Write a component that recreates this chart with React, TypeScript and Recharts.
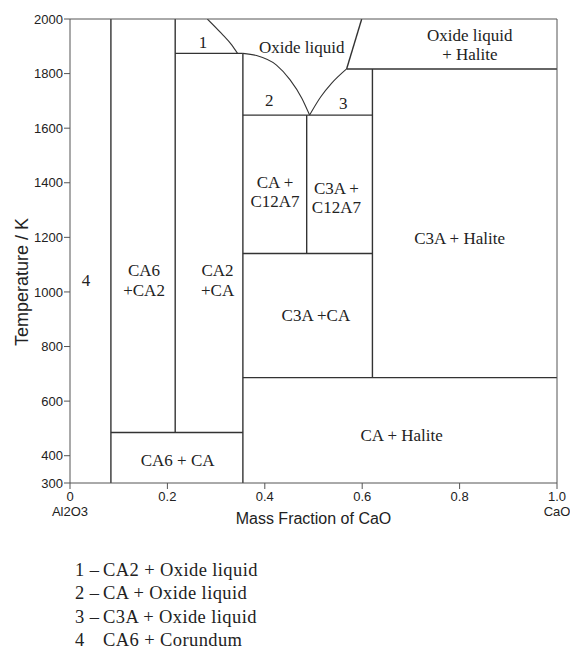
import React from "react";
import { LineChart, Line, XAxis, YAxis, ReferenceDot } from "recharts";

const X_TICKS = [0, 0.2, 0.4, 0.6, 0.8, 1];
const Y_TICKS = [300, 400, 600, 800, 1000, 1200, 1400, 1600, 1800, 2000];
const X_END_NAMES: Record<number, string> = { 0: "Al2O3", 1: "CaO" };

// phase boundaries, x = mass fraction CaO, t = temperature (K)
const CA6_LINE = [{ x: 0.084, t: 300 }, { x: 0.084, t: 2000 }];
const CA2_LINE = [{ x: 0.216, t: 485 }, { x: 0.216, t: 2000 }];
const CA_LINE = [{ x: 0.355, t: 300 }, { x: 0.355, t: 1874 }];
const C12A7_LINE = [{ x: 0.486, t: 1141 }, { x: 0.486, t: 1648 }];
const C3A_LINE = [{ x: 0.621, t: 686 }, { x: 0.621, t: 1817 }];

const CA6_CA_TIE = [{ x: 0.084, t: 485 }, { x: 0.355, t: 485 }];
const CA2_TIE = [{ x: 0.216, t: 1874 }, { x: 0.355, t: 1874 }];
const EUTECTIC_TIE = [{ x: 0.355, t: 1648 }, { x: 0.621, t: 1648 }];
const C3A_CA_TIE = [{ x: 0.355, t: 1141 }, { x: 0.621, t: 1141 }];
const HALITE_LOW = [{ x: 0.355, t: 686 }, { x: 1, t: 686 }];
const HALITE_HIGH = [{ x: 0.568, t: 1817 }, { x: 1, t: 1817 }];

const LIQUIDUS_1 = [
  { x: 0.282, t: 2000 },
  { x: 0.311, t: 1947 },
  { x: 0.332, t: 1905 },
  { x: 0.344, t: 1874 },
];
const LIQUIDUS_2 = [
  { x: 0.355, t: 1874 },
  { x: 0.383, t: 1866 },
  { x: 0.424, t: 1831 },
  { x: 0.452, t: 1777 },
  { x: 0.476, t: 1710 },
  { x: 0.492, t: 1648 },
];
const LIQUIDUS_3 = [
  { x: 0.492, t: 1648 },
  { x: 0.515, t: 1715 },
  { x: 0.537, t: 1764 },
  { x: 0.568, t: 1817 },
];
const HALITE_LIQUIDUS = [{ x: 0.568, t: 1817 }, { x: 0.599, t: 2000 }];

const STRAIGHT = [
  CA6_LINE, CA2_LINE, CA_LINE, C12A7_LINE, C3A_LINE,
  CA6_CA_TIE, CA2_TIE, EUTECTIC_TIE, C3A_CA_TIE, HALITE_LOW, HALITE_HIGH, HALITE_LIQUIDUS,
];
const CURVED = [LIQUIDUS_1, LIQUIDUS_2, LIQUIDUS_3];

const REGION_TEXT = [
  "1", "Oxide liquid", "Oxide liquid", "+ Halite", "2", "3",
  "CA +", "C12A7", "C3A +", "C12A7", "C3A + Halite", "4",
  "CA6", "+CA2", "CA2", "+CA", "C3A +CA", "CA6 + CA", "CA + Halite",
];
const REGION_X = [
  0.273, 0.476, 0.821, 0.821, 0.409, 0.561,
  0.421, 0.421, 0.547, 0.547, 0.8, 0.033,
  0.152, 0.152, 0.303, 0.303, 0.505, 0.221, 0.681,
];
const REGION_T = [
  1917, 1898, 1941, 1872, 1703, 1693,
  1404, 1333, 1380, 1310, 1196, 1044,
  1080, 1007, 1080, 1007, 915, 384, 476,
];

const NOTE_KEYS = ["1 –", "2 –", "3 –", "4"];
const NOTE_TEXTS = ["CA2 + Oxide liquid", "CA + Oxide liquid", "C3A + Oxide liquid", "CA6 + Corundum"];

const SANS = "Liberation Sans, Arial, sans-serif";
const SERIF = "Liberation Serif, Times New Roman, serif";
const INK = "#222";
const LINE = "#333";
const FRAME = "#555";

function BottomTick(props: any) {
  const { x, y, payload } = props;
  const v = payload.value;
  const txt = v === 0 ? "0" : v.toFixed(1);
  const name = X_END_NAMES[v];
  return (
    <g>
      <text x={x} y={y + 9} textAnchor="middle" fontSize={13} fontFamily={SANS} fill={INK}>
        {txt}
      </text>
      {name && (
        <text x={x} y={y + 23.5} textAnchor="middle" fontSize={13} fontFamily={SANS} fill={INK}>
          {name}
        </text>
      )}
    </g>
  );
}

export default function App() {
  return (
    <div style={{ position: "relative", width: 571, height: 651, boxSizing: "border-box", padding: "8px 0 0 8px" }}>
      <style>{"html,body{margin:0;overflow:hidden}"}</style>
      <LineChart width={562} height={530} margin={{ top: 5, right: 7, bottom: 5, left: 10 }}>
        <XAxis
          dataKey="x"
          type="number"
          domain={[0, 1]}
          ticks={X_TICKS}
          height={50}
          tickSize={6}
          tickMargin={3}
          stroke={FRAME}
          tick={<BottomTick />}
          allowDataOverflow
          label={{
            content: (p: any) => {
              const vb = p.viewBox || { x: 62, y: 475, width: 487 };
              return (
                <text x={vb.x + vb.width / 2} y={vb.y + 41} textAnchor="middle" fontSize={16} fontFamily={SANS} fill={INK}>
                  Mass Fraction of CaO
                </text>
              );
            },
          }}
        />
        <XAxis
          xAxisId="top"
          orientation="top"
          dataKey="x"
          type="number"
          domain={[0, 1]}
          ticks={X_TICKS}
          height={6}
          tickSize={6}
          tick={false}
          stroke={FRAME}
        />
        <YAxis
          type="number"
          domain={[300, 2000]}
          ticks={Y_TICKS}
          width={52}
          tickSize={6}
          tickMargin={1}
          stroke={FRAME}
          allowDataOverflow
          tick={{ fontSize: 13, fontFamily: SANS, fill: INK }}
          label={{
            content: (p: any) => {
              const vb = p.viewBox || { x: 10, y: 11, height: 464 };
              const cx = vb.x + 3.7;
              const cy = vb.y + 263;
              return (
                <text
                  x={cx}
                  y={cy}
                  transform={`rotate(-90, ${cx}, ${cy})`}
                  textAnchor="middle"
                  dominantBaseline="central"
                  fontSize={18}
                  fontFamily={SANS}
                  fill={INK}
                >
                  Temperature / K
                </text>
              );
            },
          }}
        />
        <YAxis
          yAxisId="right"
          orientation="right"
          type="number"
          domain={[300, 2000]}
          ticks={Y_TICKS}
          width={6}
          tickSize={6}
          tick={false}
          stroke={FRAME}
        />
        {STRAIGHT.map((seg, i) => (
          <Line
            key={"s" + i}
            data={seg}
            dataKey="t"
            type="linear"
            stroke={LINE}
            strokeWidth={1.4}
            dot={false}
            activeDot={false}
            isAnimationActive={false}
          />
        ))}
        {CURVED.map((seg, i) => (
          <Line
            key={"c" + i}
            data={seg}
            dataKey="t"
            type="monotone"
            stroke={LINE}
            strokeWidth={1.1}
            dot={false}
            activeDot={false}
            isAnimationActive={false}
          />
        ))}
        {REGION_TEXT.map((txt, i) => (
          <ReferenceDot
            key={"r" + i}
            x={REGION_X[i]}
            y={REGION_T[i]}
            r={0}
            fill="none"
            stroke="none"
            label={{ value: txt, position: "center", fontSize: 17, fontFamily: SERIF, fill: INK }}
          />
        ))}
      </LineChart>
      <div
        style={{
          position: "absolute",
          left: 0,
          top: 558.5,
          fontFamily: SERIF,
          fontSize: 18.5,
          letterSpacing: 0.4,
          lineHeight: "23.5px",
          color: INK,
        }}
      >
        {NOTE_TEXTS.map((txt, i) => (
          <div key={i} style={{ position: "relative", height: 23.5, whiteSpace: "nowrap" }}>
            <span style={{ position: "absolute", left: 75 }}>{NOTE_KEYS[i]}</span>
            <span style={{ position: "absolute", left: 103 }}>{txt}</span>
          </div>
        ))}
      </div>
    </div>
  );
}
